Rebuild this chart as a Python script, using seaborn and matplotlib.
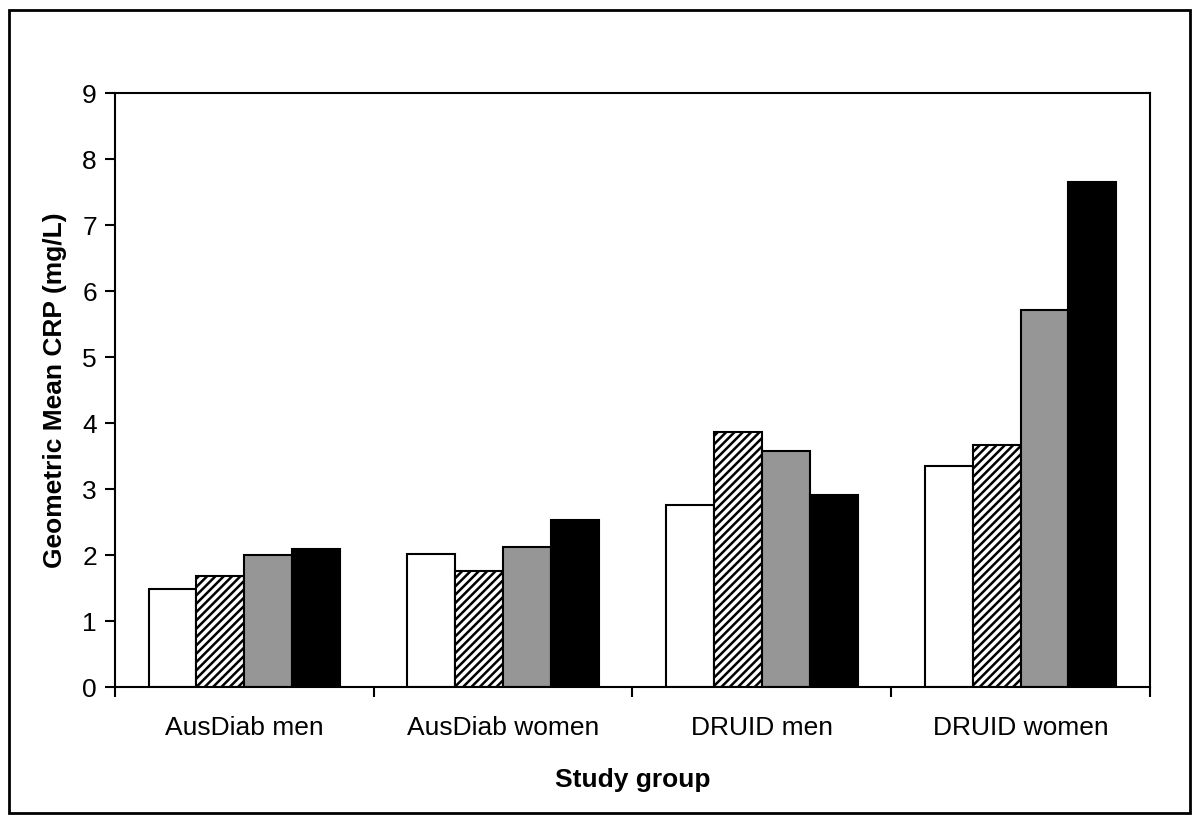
import seaborn as sns
import matplotlib.pyplot as plt
import matplotlib.patches as mpatches
import pandas as pd

groups = ['AusDiab men', 'AusDiab women', 'DRUID men', 'DRUID women']
series = ['Series 1', 'Series 2', 'Series 3', 'Series 4']
vals_s1 = [1.49, 2.02, 2.76, 3.35]
vals_s2 = [1.68, 1.76, 3.87, 3.67]
vals_s3 = [2.00, 2.12, 3.58, 5.71]
vals_s4 = [2.09, 2.53, 2.91, 7.65]
colors = ['white', 'white', '#969696', 'black']

rows = []
for s, vals in zip(series, [vals_s1, vals_s2, vals_s3, vals_s4]):
    for g, v in zip(groups, vals):
        rows.append({'group': g, 'series': s, 'crp': v})
df = pd.DataFrame(rows)

sns.set_style('white')
plt.rcParams['font.family'] = ['Liberation Sans', 'DejaVu Sans']
plt.rcParams['hatch.linewidth'] = 1.8
plt.rcParams['text.color'] = 'black'
plt.rcParams['axes.labelcolor'] = 'black'
plt.rcParams['xtick.color'] = 'black'
plt.rcParams['ytick.color'] = 'black'

fig = plt.figure(figsize=(12, 8.23), dpi=100)
ax = fig.add_axes([0.0958, 0.1652, 0.8625, 0.7217])

sns.barplot(data=df, x='group', y='crp', hue='series', palette=colors,
            edgecolor='black', linewidth=1.5, width=0.74, legend=False,
            saturation=1, ax=ax)

# hatched second series
for bar in ax.containers[1]:
    bar.set_hatch('////')

ax.set_ylim(0, 9)
ax.set_yticks(range(10))
ax.set_xlim(-0.5, 3.5)
ax.set_xticks([-0.5, 0.5, 1.5, 2.5, 3.5], minor=True)
ax.tick_params(axis='x', which='major', length=0, pad=21, labelsize=19)
ax.tick_params(axis='x', which='minor', length=7, width=1.5, direction='out', bottom=True)
ax.tick_params(axis='y', length=7, width=1.5, direction='out', left=True, labelsize=19, pad=6)

for sp in ax.spines.values():
    sp.set_visible(True)
    sp.set_linewidth(1.5)
    sp.set_color('black')

ax.set_xlabel('Study group', fontsize=19, fontweight='bold', labelpad=20)
ax.set_ylabel('Geometric Mean CRP (mg/L)', fontsize=19, fontweight='bold', labelpad=11)

# outer frame
fig.patches.append(mpatches.Rectangle((9 / 1200, 10 / 823), 1181 / 1200, 803 / 823,
                                      transform=fig.transFigure, fill=False,
                                      edgecolor='black', linewidth=2))

fig.savefig('out.png', dpi=100)
